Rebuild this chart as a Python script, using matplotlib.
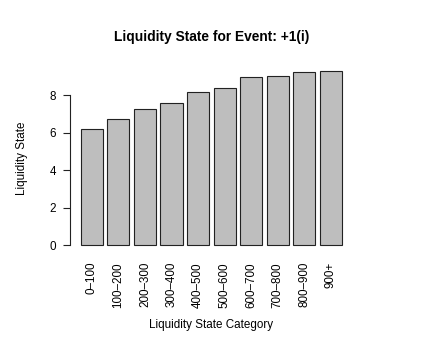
import matplotlib
matplotlib.use("Agg")
import matplotlib.pyplot as plt
import numpy as np

categories = ["0\u2013100", "100\u2013200", "200\u2013300", "300\u2013400", "400\u2013500",
              "500\u2013600", "600\u2013700", "700\u2013800", "800\u2013900", "900+"]
values = [6.19, 6.74, 7.25, 7.59, 8.18, 8.39, 8.96, 9.01, 9.21, 9.30]
yticks = [0, 2, 4, 6, 8]

plt.rcParams['font.family'] = ['Liberation Sans', 'DejaVu Sans']

W, H = 423, 353
dpi = 100
fig = plt.figure(figsize=(W / dpi, H / dpi), dpi=dpi)

left, right = 70.3, 352.4
top, bottom = 63.7, 252.0
ax = fig.add_axes([left / W, 1 - bottom / H, (right - left) / W, (bottom - top) / H])

n = len(values)
x = 0.2 + np.arange(n) * 1.2 + 0.5
ax.bar(x, values, width=1.0, color="#bebebe", edgecolor="#222222", linewidth=0.8)

xmin = 0.2
xmax = x[-1] + 0.5
pad = (xmax - xmin) * 0.04
ax.set_xlim(xmin - pad, xmax + pad)
ymax = max(values)
ax.set_ylim(-ymax * 0.04, ymax * 1.04)

for s in ["top", "right", "bottom"]:
    ax.spines[s].set_visible(False)
ax.spines["left"].set_bounds(0, 8)
ax.spines["left"].set_linewidth(0.8)
ax.spines["left"].set_color("#222222")

fs = 8.4
ax.set_yticks(yticks)
ax.set_yticklabels([str(t) for t in yticks])
ax.tick_params(axis="y", direction="out", length=5.2, width=0.8, pad=5.2,
               labelsize=fs, color="#222222")
ax.set_xticks(x)
ax.set_xticklabels(categories, rotation=90)
ax.tick_params(axis="x", length=0, pad=7.2, labelsize=fs)

fig.text(211.5 / W, 1 - 37 / H, "Liquidity State for Event: +1(i)", ha="center", va="center",
         fontsize=9.9, fontweight="bold")
fig.text(211.4 / W, 1 - 325 / H, "Liquidity State Category", ha="center", va="center", fontsize=fs)
fig.text(22 / W, 1 - 158 / H, "Liquidity State", ha="center", va="center", rotation=90, fontsize=fs)

fig.savefig("out.png", dpi=dpi, facecolor="white")
